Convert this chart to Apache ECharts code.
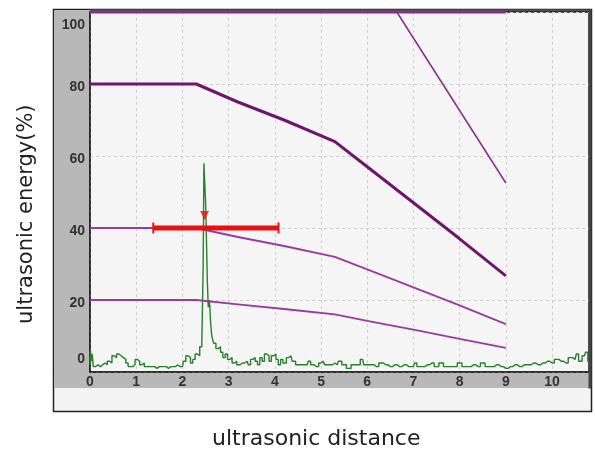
<!DOCTYPE html>
<html>
<head>
<meta charset="utf-8">
<script src="https://cdn.jsdelivr.net/npm/echarts@6/dist/echarts.min.js"></script>
<style>
  html, body { margin: 0; padding: 0; background: #fff; }
  #chart { width: 595px; height: 459px; }
</style>
</head>
<body>
<div id="chart"></div>
<script>
// DAC curves (x = distance, y = energy %)
const dacX = [0, 2.3, 3.2, 4.2, 5.3, 6.0, 7.0, 8.0, 9.0];
const dac80 = [80, 80, 75, 70, 64, 57, 47, 37, 26.7];
const dac40 = [40, 40, 37.5, 35, 32, 28.5, 23.5, 18.5, 13.3];
const dac20 = [20, 20, 18.8, 17.5, 16, 14.2, 11.8, 9.2, 6.7];
const topLineX = [0, 9];
const topLineY = [100, 100];
const steepX = [6.64, 9.0];
const steepY = [100, 52.5];

// echo trace
const echoX = [0, 0.02, 0.04, 0.06, 0.08, 0.15, 0.2, 0.25, 0.3, 0.35, 0.4, 0.45, 0.5, 0.55, 0.6, 0.65, 0.7, 0.75, 0.8, 0.85,
  0.9, 0.95, 1.0, 1.05, 1.1, 1.15, 1.2, 1.3, 1.4, 1.45, 1.5, 1.6, 1.7, 1.75, 1.8, 1.9, 1.95, 2.0, 2.05, 2.1,
  2.15, 2.2, 2.25, 2.3, 2.35, 2.4, 2.44, 2.46, 2.47, 2.5, 2.51, 2.53, 2.55, 2.57, 2.6, 2.62, 2.65, 2.7, 2.75, 2.8, 2.85,
  2.9, 2.95, 3.0, 3.05, 3.1, 3.15, 3.2, 3.3, 3.4, 3.45, 3.5, 3.55, 3.6, 3.65, 3.7, 3.75, 3.8, 3.85, 3.9, 3.95,
  4.0, 4.05, 4.1, 4.15, 4.2, 4.3, 4.35, 4.4, 4.5, 4.6, 4.7, 4.75, 4.8, 4.9, 5.0, 5.05, 5.1, 5.2, 5.3, 5.35,
  5.4, 5.5, 5.6, 5.7, 5.8, 5.9, 5.95, 6.0, 6.1, 6.2, 6.3, 6.4, 6.5, 6.6, 6.7, 6.8, 6.9, 7.0, 7.05, 7.1,
  7.2, 7.3, 7.4, 7.5, 7.6, 7.7, 7.8, 7.9, 8.0, 8.1, 8.2, 8.3, 8.4, 8.5, 8.6, 8.7, 8.8, 8.9, 9.0, 9.1,
  9.2, 9.3, 9.4, 9.5, 9.6, 9.7, 9.8, 9.9, 10.0, 10.1, 10.2, 10.3, 10.4, 10.5, 10.55, 10.6, 10.7, 10.75, 10.8];
const echoY = [2, 6, 3, 5, 1.5, 2, 1.5, 2, 2.5, 2, 3, 2.5, 4.5, 4, 5, 4.5, 4, 3.5, 2.5, 1.5,
  1.5, 2, 3.5, 3, 2, 2.5, 1.5, 1.5, 1.5, 1, 1.5, 1.5, 1, 1.5, 1.5, 2, 1.5, 1.5, 3, 4.5,
  4, 2.5, 3.5, 5, 4.5, 7, 8, 30, 58, 58, 46, 46, 25, 18, 20, 14, 10, 8, 6.5, 7, 5.5,
  4, 5, 3.5, 4, 2.5, 3, 2, 2.5, 3, 2, 3.5, 4, 3, 2, 4, 3, 5, 4.5, 3, 4.5,
  5, 3.5, 2, 3.5, 2.5, 4, 4.5, 3, 2, 2, 2, 3, 2, 1.5, 2.5, 3, 2, 2, 2.5, 2,
  3, 2, 1, 2, 2, 3.5, 2, 2, 2, 1.5, 2.5, 2, 1.5, 2, 1.5, 2, 1.5, 1.5, 2.5, 1.5,
  1.5, 2, 2.5, 1.5, 2.5, 1.5, 1.5, 1.5, 2.5, 1.5, 1.5, 2, 1.5, 2.5, 1.5, 1.5, 2, 1.5, 1, 1.5,
  2, 1.5, 2, 2, 2.5, 2, 2.5, 3, 2.5, 3.5, 3, 2.5, 4, 3.5, 5, 3, 4.5, 5.5, 3];

// red gate / cursor
const gateX = [1.37, 4.08];
const gateY = [40, 40];
const cursor = [2.48, 43.5];

const xTicks = { min: 0, max: 10.8, interval: 1 };
const yTicks = { min: 0, max: 100, interval: 20 };

function pairs(xs, ys) { return xs.map((x, i) => [x, ys[i]]); }

const chart = echarts.init(document.getElementById('chart'));
const font = 'Liberation Sans, Arial, sans-serif';

chart.setOption({
  animation: false,
  grid: { left: 90, right: 6, top: 12, bottom: 87, show: true, backgroundColor: '#f5f5f5', borderColor: '#222', borderWidth: 1.5 },
  graphic: [
    { type: 'rect', z: -10, shape: { x: 53.5, y: 9.5, width: 538, height: 402 }, style: { fill: '#f4f4f4', stroke: '#222', lineWidth: 1.5 } },
    { type: 'rect', z: -9, shape: { x: 54.5, y: 10.5, width: 36, height: 377 }, style: { fill: '#b8b8b8' } },
    { type: 'rect', z: -9, shape: { x: 54.5, y: 372, width: 536, height: 16 }, style: { fill: '#b8b8b8' } },
    { type: 'rect', z: -8, shape: { x: 90, y: 9.5, width: 501, height: 3 }, style: { fill: '#555' } },
    { type: 'rect', z: 10, shape: { x: 588.5, y: 9.5, width: 3, height: 379 }, style: { fill: '#444' } },
    { type: 'text', left: 212, top: 428, style: { text: 'ultrasonic distance', font: '22px "DejaVu Sans", sans-serif', fill: '#222' } },
    { type: 'text', x: 16, y: 324, rotation: Math.PI / 2, style: { text: 'ultrasonic energy(%)', font: '21px "DejaVu Sans", sans-serif', fill: '#222' } }
  ],
  xAxis: {
    type: 'value', min: xTicks.min, max: xTicks.max, interval: xTicks.interval,
    axisLine: { show: true, lineStyle: { color: '#222', width: 1.5 } },
    axisTick: { show: false },
    axisLabel: { showMaxLabel: false, margin: 3, color: '#333', fontSize: 14, fontWeight: 'bold', fontFamily: font },
    splitLine: { show: true, lineStyle: { color: '#cfcfcf', type: [3, 3] } }
  },
  yAxis: {
    type: 'value', min: yTicks.min, max: yTicks.max, interval: yTicks.interval,
    axisLine: { show: true, lineStyle: { color: '#222', width: 1.5 } },
    axisTick: { show: false },
    axisLabel: { margin: 5, color: '#333', fontSize: 14, fontWeight: 'bold', fontFamily: font, padding: [6, 0, 0, 0],
      verticalAlignMaxLabel: 'top', verticalAlignMinLabel: 'bottom',
      formatter: v => (v === 0 ? '{z|0}' : String(v)),
      rich: { z: { fontSize: 14, fontWeight: 'bold', fontFamily: font, color: '#333', padding: [0, 0, 6, 0] } } },
    splitLine: { show: true, lineStyle: { color: '#cfcfcf', type: [3, 3] } }
  },
  series: [
    { type: 'line', data: pairs(echoX, echoY), symbol: 'none', step: 'middle', lineStyle: { color: '#2a7f2a', width: 1.4 }, z: 3 },
    { type: 'line', data: pairs(topLineX, topLineY), symbol: 'none', lineStyle: { color: '#8a2a8f', width: 3 }, z: 4 },
    { type: 'line', data: pairs(steepX, steepY), symbol: 'none', lineStyle: { color: '#8a2a8f', width: 1.5 }, z: 4 },
    { type: 'line', data: pairs(dacX, dac80), symbol: 'none', lineStyle: { color: '#6e166e', width: 3 }, z: 4 },
    { type: 'line', data: pairs(dacX, dac40), symbol: 'none', lineStyle: { color: '#9a3aa0', width: 1.8 }, z: 4 },
    { type: 'line', data: pairs(dacX, dac20), symbol: 'none', lineStyle: { color: '#9a3aa0', width: 1.8 }, z: 4 },
    { type: 'line', data: pairs(gateX, gateY), symbol: 'rect', symbolSize: [2, 11], itemStyle: { color: '#e81010' },
      lineStyle: { color: '#e81010', width: 5 }, z: 5 },
    { type: 'scatter', data: [cursor], symbol: 'triangle', symbolRotate: 180, symbolSize: 9, itemStyle: { color: '#e81010' }, z: 6 }
  ]
});
</script>
</body>
</html>
